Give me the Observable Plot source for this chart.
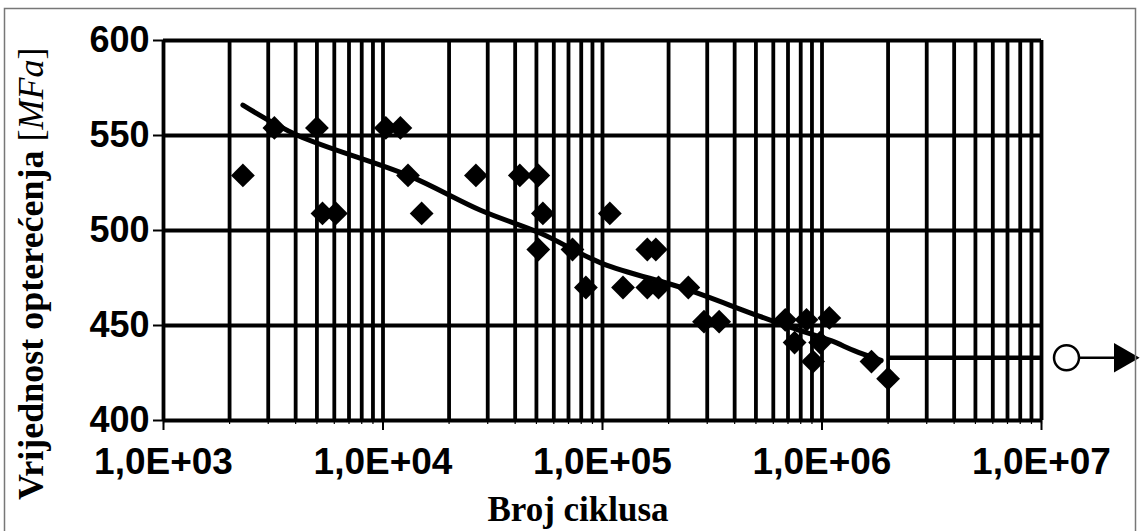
<!DOCTYPE html>
<html><head><meta charset="utf-8">
<script src="https://cdn.jsdelivr.net/npm/d3@7"></script>
<script src="https://cdn.jsdelivr.net/npm/@observablehq/plot@0.6"></script>
<style>body{margin:0;background:#fff;} #chart{width:1140px;height:531px;overflow:hidden}</style>
</head><body><div id="chart"></div>
<script>
// Test points: number of cycles and stress level
const cycles = [2.3e3, 3.2e3, 5.0e3, 5.3e3, 6.1e3, 1.03e4, 1.2e4, 1.3e4, 1.5e4, 2.65e4, 4.2e4, 5.1e4, 5.35e4, 1.08e5,
  5.1e4, 7.3e4, 8.4e4, 1.24e5, 1.6e5, 1.75e5, 1.6e5, 1.8e5, 2.46e5, 2.9e5, 3.4e5,
  6.8e5, 7.5e5, 8.5e5, 9.1e5, 9.8e5, 1.08e6, 1.68e6, 2.0e6];
const stress = [529, 554, 554, 509, 509, 554, 554, 529, 509, 529, 529, 529, 509, 509,
  490, 490, 470, 470, 490, 490, 470, 470, 470, 452, 452,
  453, 441, 453, 431, 441, 454, 431, 422];
// Fitted S-N curve
const fitCycles = [2.3e3, 4.1e3, 1.3e4, 2.8e4, 5.25e4, 1.0e5, 2.35e5, 4.8e5, 7.2e5, 1.1e6, 1.4e6, 1.86e6];
const fitStress = [566, 550, 529, 510.5, 498.4, 482.6, 469.5, 456.3, 449, 442, 436.8, 431.6];
// Run-out marker
const runoutLevel = 433;
const runoutStart = 2e6, runoutEnd = 1e7, runoutCircle = 1.3e7, runoutArrow = 2.34e7;
// Axes
const yTicks = [400, 450, 500, 550, 600];
const xTicks = [1e3, 1e4, 1e5, 1e6, 1e7];
const xTickLabels = ["1,0E+03", "1,0E+04", "1,0E+05", "1,0E+06", "1,0E+07"];
const xTitle = "Broj ciklusa";
const yTitle = "Vrijednost opterećenja ";
const yUnit = "MFa";

const gridX = [];
for (let e = 3; e < 7; e++) for (let m = 1; m < 10; m++) gridX.push(m * 10 ** e);
gridX.push(1e7);

const pts = cycles.map((c, i) => ({c, s: stress[i]}));
const fit = fitCycles.map((c, i) => ({c, s: fitStress[i]}));

const sans = "Liberation Sans, Arial, sans-serif";
const serif = "Liberation Serif, Times New Roman, serif";

const chart = Plot.plot({
  width: 1140, height: 531,
  marginLeft: 163, marginRight: 99, marginTop: 40, marginBottom: 111,
  x: {type: "log", domain: [1e3, 1e7]},
  y: {domain: [400, 600]},
  style: {background: "white", color: "black", overflow: "visible"},
  marks: [
    Plot.ruleX(gridX, {stroke: "black", strokeWidth: 3.8}),
    Plot.ruleY(yTicks, {stroke: "black", strokeWidth: 3.8}),
    Plot.axisY({ticks: yTicks, tickSize: 10, tickPadding: 4, strokeWidth: 2, label: null,
      fontSize: 36, fontWeight: "bold", fontFamily: sans}),
    Plot.axisX({ticks: gridX, tickSize: 4, tickFormat: () => "", strokeWidth: 1.2, label: null}),
    Plot.axisX({ticks: xTicks, tickSize: 10, tickPadding: 17, strokeWidth: 2, label: null,
      tickFormat: d => xTickLabels[xTicks.indexOf(d)],
      fontSize: 37, fontWeight: "bold", fontFamily: sans}),
    Plot.line(fit, {x: "c", y: "s", curve: "catmull-rom", stroke: "black", strokeWidth: 5}),
    Plot.dot(pts, {x: "c", y: "s", symbol: "square", rotate: 45, r: 9.5, fill: "black", stroke: "none"}),
    Plot.ruleY([runoutLevel], {x1: runoutStart, x2: runoutEnd, stroke: "black", strokeWidth: 4.5}),
    Plot.ruleY([runoutLevel], {x1: runoutCircle, x2: runoutArrow, stroke: "black", strokeWidth: 2.5}),
    Plot.dot([runoutCircle], {x: d => d, y: runoutLevel, r: 12.5, fill: "white", stroke: "black", strokeWidth: 2.5}),
    Plot.dot([runoutArrow], {x: d => d, y: runoutLevel, symbol: "triangle", rotate: 90, r: 11, fill: "black", stroke: "none"})
  ]
});

const svg = d3.select(chart);
svg.append("rect").attr("x", 4.5).attr("y", 8.5).attr("width", 1131).attr("height", 560)
  .attr("fill", "none").attr("stroke", "#777").attr("stroke-width", 1.5);
svg.append("text").attr("x", 578).attr("y", 521).attr("text-anchor", "middle")
  .attr("font-family", serif).attr("font-weight", "bold").attr("font-size", 35).attr("fill", "black")
  .text(xTitle);
const yt = svg.append("text").attr("transform", "translate(43,500) rotate(-90)")
  .attr("text-anchor", "start")
  .attr("font-family", serif).attr("font-weight", "bold").attr("font-size", 36).attr("fill", "black");
yt.append("tspan").text(yTitle);
yt.append("tspan").attr("font-weight", "normal").text("[");
yt.append("tspan").attr("font-weight", "normal").attr("font-style", "italic").text(yUnit);
yt.append("tspan").attr("font-weight", "normal").text("]");

document.getElementById("chart").append(chart);
</script>
</body></html>
